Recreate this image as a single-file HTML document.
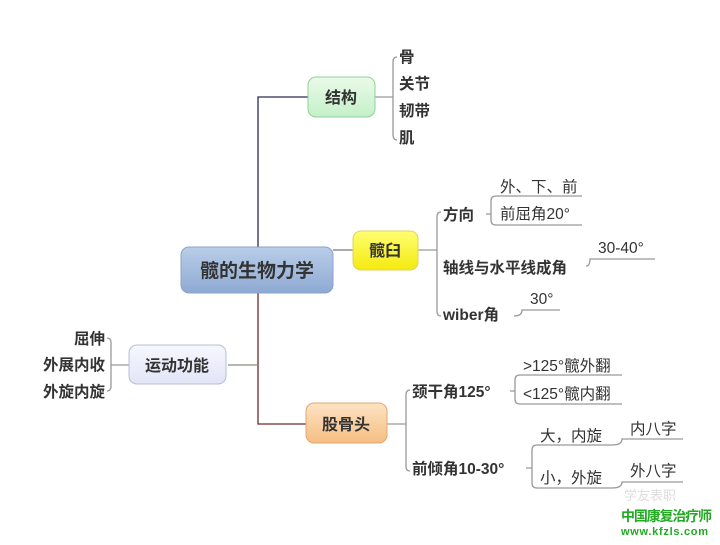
<!DOCTYPE html>
<html><head><meta charset="utf-8"><style>
html,body{margin:0;padding:0;background:#fff;}
svg text{font-family:"Liberation Sans","Noto Sans CJK SC",sans-serif;}
</style></head><body>
<svg width="720" height="540" viewBox="0 0 720 540" xmlns="http://www.w3.org/2000/svg">
<defs>
<linearGradient id="gc" x1="0" y1="0" x2="0" y2="1"><stop offset="0" stop-color="#b9cde8"/><stop offset="1" stop-color="#8eaad3"/></linearGradient>
<linearGradient id="gg" x1="0" y1="0" x2="0" y2="1"><stop offset="0" stop-color="#eafbe9"/><stop offset="1" stop-color="#c4f0c8"/></linearGradient>
<linearGradient id="gy" x1="0" y1="0" x2="0" y2="1"><stop offset="0" stop-color="#ffff70"/><stop offset="1" stop-color="#f4ea10"/></linearGradient>
<linearGradient id="gl" x1="0" y1="0" x2="0" y2="1"><stop offset="0" stop-color="#f6f7ff"/><stop offset="1" stop-color="#e2e5f7"/></linearGradient>
<linearGradient id="go" x1="0" y1="0" x2="0" y2="1"><stop offset="0" stop-color="#fde3c4"/><stop offset="1" stop-color="#f6be82"/></linearGradient>
</defs>
<g fill="none" stroke-width="1.3">
<path d="M308,97 H258 V250" stroke="#2a2a55"/>
<path d="M258,293 V424 H306" stroke="#6a2a2a"/>
<path d="M258,365 H228" stroke="#8a8a80"/>
<path d="M333,250 H353" stroke="#777"/>
<path d="M375,97 H393 M397,57 Q393,57 393,62 V134 Q393,140 397,140" stroke="#999"/>
<path d="M418,250 H437 M441,212 Q437,212 437,217 V311 Q437,316 441,316" stroke="#999"/>
<path d="M486,214 H491 M496,196 Q491,196 491,201 V220 Q491,225 496,225 H582 M496,196 H582" stroke="#999"/>
<path d="M586,266 Q590,266 590,259 H655" stroke="#999"/>
<path d="M514,316 Q522,316 522,310 H560" stroke="#999"/>
<path d="M387,424 H406 M410,390 Q406,390 406,395 V466 Q406,471 410,471" stroke="#999"/>
<path d="M510,391 H515 M520,375 Q515,375 515,380 V399 Q515,404 520,404 H622 M520,375 H622" stroke="#999"/>
<path d="M526,468 H532 M537,445 Q532,445 532,450 V483 Q532,488 537,488 H612 M537,445 H612" stroke="#999"/>
<path d="M612,445 Q622,445 622,439 H683 M612,488 Q622,488 622,482 H683" stroke="#999"/>
<path d="M129,365 H111 M107,338 Q111,338 111,343 V386 Q111,391 107,391" stroke="#999"/>
</g>
<rect x="181" y="247" width="152" height="46" rx="8" fill="url(#gc)" stroke="#8aa4c9"/>
<rect x="308" y="77" width="67" height="40" rx="8" fill="url(#gg)" stroke="#8fd09a"/>
<rect x="353" y="231" width="65" height="39" rx="8" fill="url(#gy)" stroke="#e0d060"/>
<rect x="129" y="345" width="97" height="39" rx="8" fill="url(#gl)" stroke="#b8bcd6"/>
<rect x="306" y="403" width="81" height="40" rx="8" fill="url(#go)" stroke="#e0a870"/>
<g font-weight="bold" fill="#333" font-size="16">
<text x="257" y="277" text-anchor="middle" font-size="19">髋的生物力学</text>
<text x="341" y="103" text-anchor="middle">结构</text>
<text x="385" y="256" text-anchor="middle">髋臼</text>
<text x="177" y="371" text-anchor="middle">运动功能</text>
<text x="346" y="430" text-anchor="middle">股骨头</text>
</g>
<g font-weight="bold" fill="#333" font-size="15.5">
<text x="399" y="62">骨</text>
<text x="399" y="89">关节</text>
<text x="399" y="116">韧带</text>
<text x="399" y="143">肌</text>
<text x="443" y="220">方向</text>
<text x="443" y="273">轴线与水平线成角</text>
<text x="443" y="320">wiber角</text>
<text x="412" y="397">颈干角125°</text>
<text x="412" y="474">前倾角10-30°</text>
<text x="105" y="344" text-anchor="end">屈伸</text>
<text x="105" y="370" text-anchor="end">外展内收</text>
<text x="105" y="397" text-anchor="end">外旋内旋</text>
</g>
<g fill="#333" font-size="15.5">
<text x="500" y="192">外、下、前</text>
<text x="500" y="219">前屈角20°</text>
<text x="598" y="253">30-40°</text>
<text x="530" y="304">30°</text>
<text x="523" y="371">&gt;125°髋外翻</text>
<text x="523" y="399">&lt;125°髋内翻</text>
<text x="540" y="441">大，内旋</text>
<text x="540" y="483">小，外旋</text>
<text x="630" y="434">内八字</text>
<text x="630" y="476">外八字</text>
</g>
<text x="624" y="500" font-size="13" fill="#ddd">学友表职</text>
<text x="621" y="521" font-size="14" font-weight="bold" fill="#22aa22" textLength="91">中国康复治疗师</text>
<text x="621" y="535" font-size="11" font-weight="bold" fill="#22aa22" textLength="87">www.kfzls.com</text>
</svg>
</body></html>
